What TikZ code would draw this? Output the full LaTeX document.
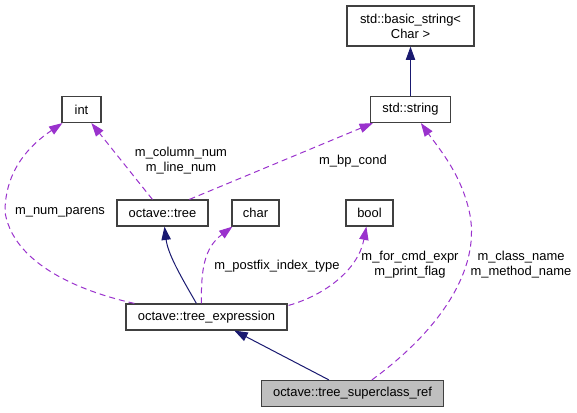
\documentclass[tikz,border=0pt]{standalone}
\usepackage{fontspec}
\setmainfont{Liberation Sans}
\usetikzlibrary{calc,arrows.meta}
\definecolor{inhcol}{HTML}{191970}
\definecolor{usecol}{HTML}{9A32CD}
\definecolor{selfcol}{HTML}{BFBFBF}
\definecolor{edgecol}{HTML}{404040}

\begin{document}
\begin{tikzpicture}[x=0.75pt,y=-0.75pt,
  every node/.style={font=\fontsize{9.7}{11.25}\selectfont,inner sep=0pt},
  classbox/.style={draw=edgecol,line width=0.9pt,fill=white,minimum height=19.5pt,align=center},
  lbl/.style={align=center},
  inherit/.style={draw=inhcol,line width=0.75pt,-{Triangle[length=10pt,width=7pt]}},
  usage/.style={draw=usecol,line width=0.75pt,dash pattern=on 4.5pt off 3pt,
    -{Triangle[length=10pt,width=7pt,fill=usecol]}}]
\useasboundingbox (0,0) rectangle (577,412);
\node[classbox,minimum width=95.25pt,minimum height=30pt] (bstr) at (410.5,26) {std::basic\_string<\\Char >};
\node[classbox,minimum width=60pt] (str) at (410.5,109.5) {std::string};
\node[classbox,minimum width=29.25pt] (int) at (81.5,109.5) {int};
\node[classbox,minimum width=68.25pt] (tree) at (162.5,213) {octave::tree};
\node[classbox,minimum width=35.25pt] (char) at (255.5,213) {char};
\node[classbox,minimum width=35.25pt] (bool) at (369.5,213) {bool};
\node[classbox,minimum width=120.75pt] (expr) at (206.5,317) {octave::tree\_expression};
\node[classbox,minimum width=136.5pt,fill=selfcol] (sref) at (352.5,393.5) {octave::tree\_superclass\_ref};

\draw[inherit] (str.north) -- (bstr.south);
\draw[usage] ($(tree.north west)+(73,0)$) -- ($(str.south west)+(3,0)$);
\draw[usage] ($(tree.north west)+(36,0)$) -- ($(int.south west)+(30,0)$);
\draw[usage] ($(expr.north west)+(9,0)$) .. controls (110,298) and (15,275) .. (5,212)
  .. controls (5,170) and (30,145) .. ($(int.south west)+(1,0)$);
\draw[inherit] ($(expr.north west)+(71,0)$) .. controls (183,280) and (168,255) .. ($(tree.south)+(2,0)$);
\draw[usage] ($(expr.north west)+(76,0)$) .. controls (201,270) and (204,248) .. ($(char.south west)+(1,0)$);
\draw[usage] ($(expr.north east)+(1,2)$) .. controls (325,295) and (358,270) .. ($(bool.south west)+(21,0)$);
\draw[usage] ($(sref.north west)+(111,0)$) .. controls (440,330) and (480,270) .. (470,215)
  .. controls (462,175) and (440,150) .. ($(str.south west)+(51,0)$);
\draw[inherit] ($(sref.north west)+(68,0)$) -- ($(expr.south west)+(109,0)$);

\node[lbl] (lbp) at (353,161) {m\_bp\_cond};
\node[lbl] (lcol) at (181,160.5) {m\_column\_num\\m\_line\_num};
\node[lbl] (lpar) at (60,212) {m\_num\_parens};
\node[lbl] (lpost) at (277,266) {m\_postfix\_index\_type};
\node[lbl] (lbool) at (410,264.5) {m\_for\_cmd\_expr\\m\_print\_flag};
\node[lbl] (lcls) at (521,264.5) {m\_class\_name\\m\_method\_name};
\end{tikzpicture}
\end{document}
